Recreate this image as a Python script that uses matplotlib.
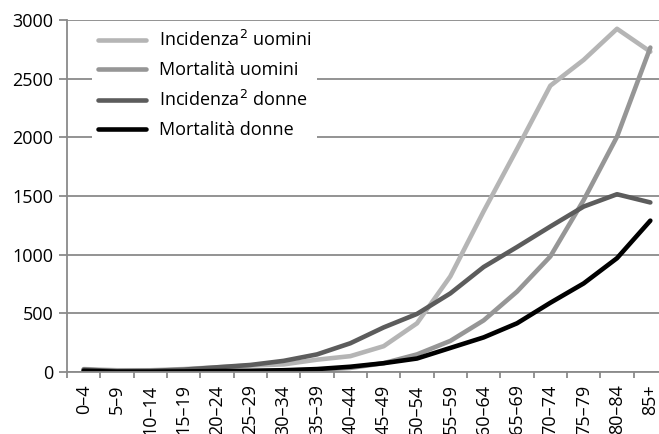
import numpy as np
import matplotlib
matplotlib.use("Agg")
import matplotlib.pyplot as plt
from matplotlib.ticker import FixedLocator, NullFormatter

plt.rcParams['font.family'] = ['Open Sans', 'DejaVu Sans']

# age classes
eta = ["0–4", "5–9", "10–14", "15–19", "20–24", "25–29", "30–34", "35–39", "40–44",
       "45–49", "50–54", "55–59", "60–64", "65–69", "70–74", "75–79", "80–84", "85+"]

# rates
inc_uomini = [25, 15, 15, 25, 40, 55, 65, 105, 135, 220, 415, 815, 1370, 1900, 2440, 2660, 2925, 2730]
mort_uomini = [15, 5, 5, 5, 5, 8, 12, 20, 35, 75, 150, 265, 440, 685, 985, 1465, 2005, 2765]
inc_donne = [20, 8, 10, 20, 40, 60, 95, 150, 245, 380, 495, 670, 895, 1065, 1240, 1410, 1515, 1445]
mort_donne = [10, 3, 3, 5, 8, 10, 15, 25, 45, 75, 115, 205, 295, 415, 590, 755, 970, 1290]

labels = ["Incidenza$^2$ uomini", "Mortalità uomini", "Incidenza$^2$ donne", "Mortalità donne"]
colors = ["#b5b5b5", "#969696", "#5c5c5c", "#000000"]

W, H = 659, 434
fig = plt.figure(figsize=(W / 100, H / 100), dpi=100)
# axes run a bit past the right edge, as in the cropped original
left, right, top, bottom = 67, 667, 20, 372
ax = fig.add_axes([left / W, 1 - bottom / H, (right - left) / W, (bottom - top) / H])

x = np.arange(len(eta))
series = [inc_uomini, mort_uomini, inc_donne, mort_donne]
for ys, lab, c in zip(series, labels, colors):
    ax.plot(x, ys, color=c, lw=3.3, label=lab, solid_capstyle='round',
            solid_joinstyle='round')

gridc = "#8a8a8a"
fs = 13
ax.set_xlim(-0.5, len(eta) - 0.5)
ax.set_ylim(0, 3000)
ax.set_yticks(np.arange(0, 3001, 500))
ax.yaxis.grid(True, color=gridc, lw=1.3)
ax.set_axisbelow(True)

ax.xaxis.set_major_locator(FixedLocator(np.arange(-0.5, len(eta), 1)))
ax.xaxis.set_major_formatter(NullFormatter())
ax.set_xticks(x, minor=True)
ax.set_xticklabels(eta, minor=True, rotation=90, fontsize=fs)
ax.tick_params(axis='x', which='minor', length=0, pad=9)
ax.tick_params(axis='x', which='major', length=4, color=gridc, width=1.3)
ax.tick_params(axis='y', length=6, color=gridc, width=1.3, labelsize=fs, pad=4)

for s in ['top', 'right']:
    ax.spines[s].set_visible(False)
for s in ['left', 'bottom']:
    ax.spines[s].set_color(gridc)
    ax.spines[s].set_linewidth(1.3)

leg = ax.legend(loc='upper left', bbox_to_anchor=(0.027, 1.012), fontsize=fs,
                frameon=True, facecolor='white', edgecolor='none', framealpha=1,
                handlelength=2.7, handletextpad=0.7, labelspacing=0.6,
                borderpad=0.3, fancybox=False)

fig.savefig("out.png", dpi=100)
